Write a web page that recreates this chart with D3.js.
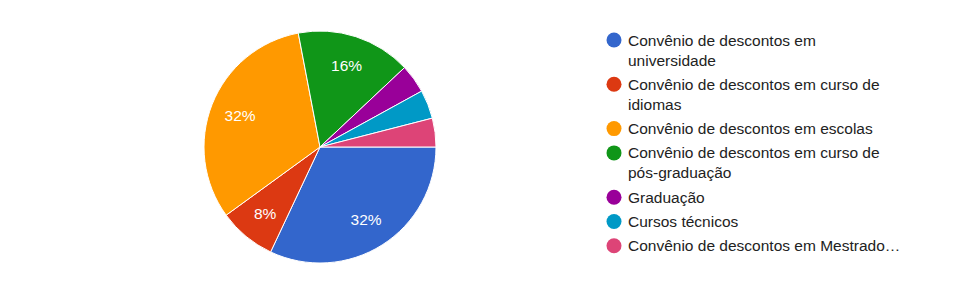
<!DOCTYPE html>
<html>
<head>
<meta charset="utf-8">
<script src="https://cdn.jsdelivr.net/npm/d3@7"></script>
<style>
  html, body { margin: 0; padding: 0; background: #fff; }
  svg { display: block; font-family: Arial, "Liberation Sans", sans-serif; }
</style>
</head>
<body>
<div id="chart"></div>
<script>
// responses per option
const labels = [
  'Convênio de descontos em\nuniversidade',
  'Convênio de descontos em curso de\nidiomas',
  'Convênio de descontos em escolas',
  'Convênio de descontos em curso de\npós-graduação',
  'Graduação',
  'Cursos técnicos',
  'Convênio de descontos em Mestrado…'
];
const counts = [8, 2, 8, 4, 1, 1, 1];
const colors = ['#3366cc', '#dc3912', '#ff9900', '#109618', '#990099', '#0099c6', '#dd4477'];

const width = 960;
const height = 285;
const center = { x: 320, y: 147 };
const radius = 116;

const svg = d3.select('#chart')
  .append('svg')
  .attr('width', width)
  .attr('height', height);

const total = d3.sum(counts);
const slices = counts.map((v, i) => ({ label: labels[i], value: v, color: colors[i] }));

// start at 3 o'clock, go clockwise
const pie = d3.pie()
  .value((d) => d.value)
  .sort(null)
  .startAngle(Math.PI / 2)
  .endAngle(Math.PI / 2 + 2 * Math.PI);

const arc = d3.arc().innerRadius(0).outerRadius(radius);
const labelArc = d3.arc().innerRadius(86).outerRadius(86);

const g = svg.append('g').attr('transform', `translate(${center.x},${center.y})`);

const arcs = pie(slices);

g.selectAll('path')
  .data(arcs)
  .join('path')
  .attr('d', arc)
  .attr('fill', (d) => d.data.color)
  .attr('stroke', '#fff')
  .attr('stroke-width', 1);

// percent labels only on bigger slices
g.selectAll('text')
  .data(arcs.filter((d) => d.data.value / total >= 0.05))
  .join('text')
  .attr('transform', (d) => `translate(${labelArc.centroid(d)})`)
  .attr('text-anchor', 'middle')
  .attr('dy', '0.36em')
  .attr('fill', '#fff')
  .style('font-size', '15.5px')
  .text((d) => Math.round((d.data.value / total) * 100) + '%');

// legend
const legend = svg.append('g').attr('class', 'legend');
let y = 40;
slices.forEach((d) => {
  const lines = d.label.split('\n');
  const item = legend.append('g').attr('transform', `translate(0,${y})`);
  item.append('circle')
    .attr('cx', 614)
    .attr('cy', 0)
    .attr('r', 7.5)
    .attr('fill', d.color);
  const t = item.append('text')
    .attr('x', 628)
    .attr('y', 0)
    .attr('fill', '#222')
    .style('font-size', '15.5px');
  lines.forEach((line, i) => {
    t.append('tspan')
      .attr('x', 628)
      .attr('y', i * 20)
      .attr('dy', '0.36em')
      .text(line);
  });
  y += (lines.length - 1) * 20 + 24.3;
});
</script>
</body>
</html>
